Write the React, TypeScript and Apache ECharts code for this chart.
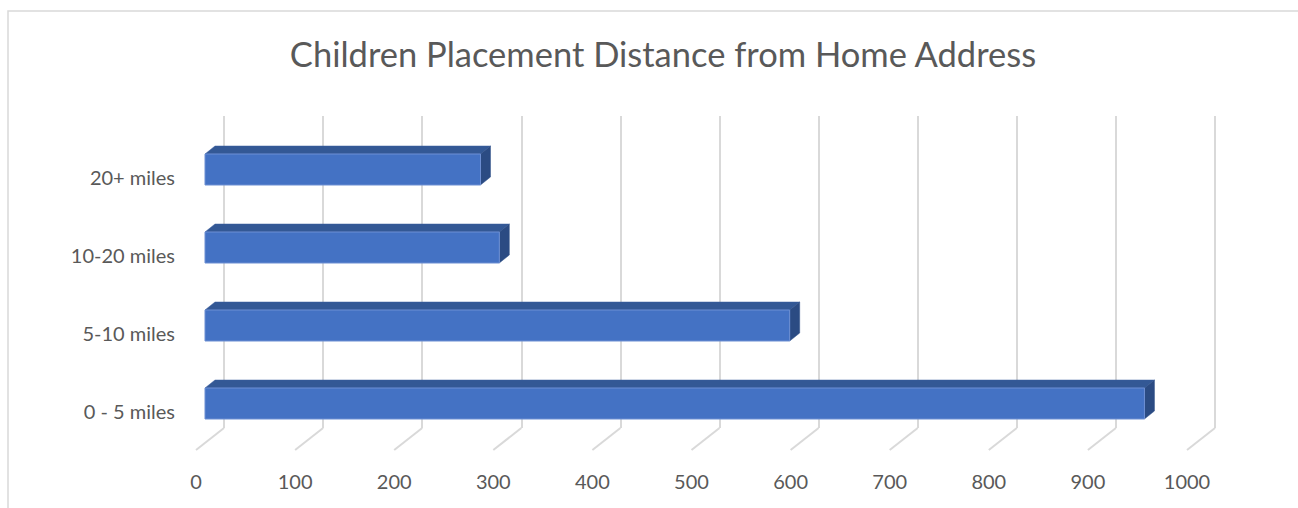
import React, { useEffect, useRef } from "react";
import * as echarts from "echarts";

const TITLE = "Children Placement Distance from Home Address";
const categories = ["0 - 5 miles", "5-10 miles", "10-20 miles", "20+ miles"];
const values = [948, 590, 297, 278];
const xTicks = [0, 100, 200, 300, 400, 500, 600, 700, 800, 900, 1000];

const FONT = "Lato, 'Open Sans', sans-serif";
const TEXT = "#595959";
const GRID = "#d9d9d9";

export default function App() {
  const ref = useRef<HTMLDivElement>(null);
  useEffect(() => {
    if (!ref.current) return;
    const chart = echarts.init(ref.current, undefined, { renderer: "svg" });
    const DX = 10;
    const DY = 8;
    const option: any = {
      animation: false,
      backgroundColor: "#ffffff",
      title: {
        text: TITLE,
        left: 658,
        top: 31,
        textAlign: "center",
        textStyle: { fontFamily: FONT, fontSize: 34.5, fontWeight: "normal", color: TEXT },
      },
      graphic: [
        {
          type: "rect",
          shape: { x: 8, y: 11, width: 1400, height: 700 },
          style: { fill: "none", stroke: GRID, lineWidth: 1.5 },
          silent: true,
          z: -10,
        },
      ],
      grid: [
        { left: 224, top: 116, width: 991, height: 312 },
        { left: 196, top: 138, width: 991, height: 312 },
      ],
      xAxis: [
        {
          gridIndex: 0,
          type: "value",
          min: 0,
          max: 1000,
          interval: 100,
          axisLine: { show: false },
          axisTick: { show: false },
          axisLabel: { show: false },
          splitLine: { show: true, lineStyle: { color: GRID, width: 2 } },
        },
        {
          gridIndex: 1,
          type: "value",
          min: 0,
          max: 1000,
          interval: 100,
          axisLine: { show: false },
          axisTick: { show: false },
          splitLine: { show: false },
          axisLabel: {
            color: TEXT,
            fontFamily: FONT,
            fontSize: 20,
            margin: 21,
            formatter: (v: number) => String(v),
          },
        },
      ],
      yAxis: [
        {
          gridIndex: 0,
          type: "category",
          data: categories,
          axisLine: { show: false },
          axisTick: { show: false },
          axisLabel: { show: false },
        },
        {
          gridIndex: 1,
          type: "category",
          data: categories,
          axisLine: { show: false },
          axisTick: { show: false },
          axisLabel: { color: TEXT, fontFamily: FONT, fontSize: 20, margin: 21 },
        },
      ],
      series: [
        {
          type: "custom",
          xAxisIndex: 0,
          yAxisIndex: 0,
          silent: true,
          data: xTicks.map((t) => [t, 0]),
          encode: { x: 0, y: 1 },
          renderItem: (params: any, api: any) => {
            const cs = params.coordSys;
            const x = api.coord([api.value(0), 0])[0];
            const yb = cs.y + cs.height;
            return {
              type: "line",
              shape: { x1: x, y1: yb, x2: x - 28, y2: yb + 22 },
              style: { stroke: GRID, lineWidth: 2 },
            };
          },
        },
        {
          type: "custom",
          xAxisIndex: 1,
          yAxisIndex: 1,
          data: values.map((v, i) => [v, i]),
          encode: { x: 0, y: 1 },
          renderItem: (params: any, api: any) => {
            const v = api.value(0);
            const c = api.value(1);
            const p0 = api.coord([0, c]);
            const p1 = api.coord([v, c]);
            const x0 = p0[0] + 9;
            const x1 = p1[0] + 9;
            const top = p0[1] - 23;
            const bot = p0[1] + 8;
            return {
              type: "group",
              children: [
                {
                  type: "polygon",
                  shape: { points: [[x0, top], [x1, top], [x1 + DX, top - DY], [x0 + DX, top - DY]] },
                  style: { fill: "#335895", stroke: "#3a5f9e", lineWidth: 0.5 },
                },
                {
                  type: "polygon",
                  shape: { points: [[x1, top], [x1 + DX, top - DY], [x1 + DX, bot - DY], [x1, bot]] },
                  style: { fill: "#2b4b83", stroke: "#2f5089", lineWidth: 0.5 },
                },
                {
                  type: "rect",
                  shape: { x: x0, y: top, width: x1 - x0, height: bot - top },
                  style: { fill: "#4472c4", stroke: "#6d8fd3", lineWidth: 1 },
                },
              ],
            };
          },
        },
      ],
    };
    chart.setOption(option);
    return () => chart.dispose();
  }, []);
  return (
    <div
      ref={ref}
      style={{ position: "fixed", left: 0, top: 0, width: 1298, height: 508 }}
    />
  );
}
